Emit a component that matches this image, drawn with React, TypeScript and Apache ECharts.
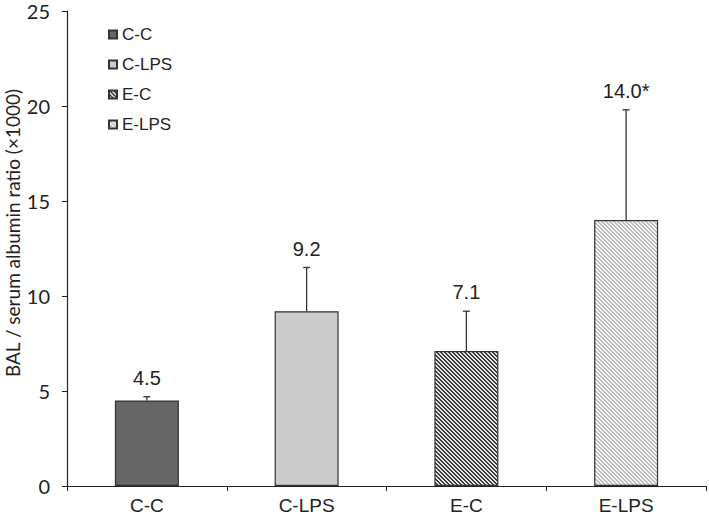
import React, { useEffect, useRef } from "react";
import * as echarts from "echarts";

const categories = ["C-C", "C-LPS", "E-C", "E-LPS"];
const means = [4.5, 9.2, 7.1, 14.0];
const errors = [0.2, 2.3, 2.1, 5.8];
const valueLabels = ["4.5", "9.2", "7.1", "14.0*"];
const yTicks = [0, 5, 10, 15, 20, 25];
const yTitle = "BAL / serum albumin ratio (×1000)";

function makeHatch(dark: string, light: string): HTMLCanvasElement {
  const n = 4;
  const c = document.createElement("canvas");
  c.width = n;
  c.height = n;
  const ctx = c.getContext("2d")!;
  for (let y = 0; y < n; y++) {
    for (let x = 0; x < n; x++) {
      const d = (((x - y) % n) + n) % n;
      ctx.fillStyle = d <= 1 ? dark : light;
      ctx.fillRect(x, y, 1, 1);
    }
  }
  return c;
}

export default function App() {
  const ref = useRef<HTMLDivElement>(null);
  useEffect(() => {
    if (!ref.current) return;
    const chart = echarts.init(ref.current, null, { renderer: "svg" });
    const fills: any[] = [
      "#666666",
      "#cccccc",
      { image: makeHatch("#3a3a3a", "#e6e6e6"), repeat: "repeat" },
      { image: makeHatch("#bdbdbd", "#f4f4f4"), repeat: "repeat" },
    ];
    const barSeries = categories.map((name, i) => ({
      name,
      type: "bar",
      barWidth: 64,
      barGap: "-100%",
      data: categories.map((_, j) => (j === i ? means[j] : "-")),
      itemStyle: { color: fills[i], borderColor: "#333", borderWidth: 1.2 },
    }));
    chart.setOption({
      animation: false,
      grid: { left: 67, right: 3, top: 11, bottom: 34, outerBoundsMode: "none", containLabel: false },
      graphic: [
        {
          type: "text",
          x: 12,
          y: 233,
          rotation: Math.PI / 2,
          style: {
            text: yTitle,
            align: "center",
            verticalAlign: "middle",
            fontFamily: "Lato, Open Sans",
            fontSize: 19,
            fill: "#222",
          },
        },
      ],
      legend: {
        data: categories,
        orient: "vertical",
        left: 108,
        top: 26,
        padding: 0,
        itemWidth: 8,
        itemHeight: 8,
        itemGap: 13,
        icon: "rect",
        textStyle: { fontFamily: "Liberation Sans, Arial", fontSize: 17, color: "#222" },
      },
      xAxis: {
        type: "category",
        data: categories,
        axisLine: { lineStyle: { color: "#222", width: 1.2 } },
        axisTick: { show: true, length: 5, lineStyle: { color: "#222" } },
        axisLabel: { margin: 10, fontFamily: "Liberation Sans, Arial", fontSize: 19, color: "#222" },
      },
      yAxis: {
        type: "value",
        min: 0,
        max: 25,
        interval: 5,
        axisLine: { show: true, lineStyle: { color: "#222", width: 1.2 } },
        axisTick: { show: true, length: 5, lineStyle: { color: "#222" } },
        splitLine: { show: false },
        axisLabel: {
          margin: 17,
          fontFamily: "Lato, Open Sans",
          fontSize: 20,
          color: "#222",
          formatter: (v: number) => (yTicks.includes(v) ? String(v) : ""),
        },
      },
      series: [
        ...barSeries,
        {
          type: "custom",
          data: categories.map((_, i) => [i, means[i], errors[i]]),
          z: 5,
          renderItem: (params: any, api: any) => {
            const i = api.value(0);
            const m = api.value(1);
            const e = api.value(2);
            const base = api.coord([i, m]);
            const top = api.coord([i, m + e]);
            return {
              type: "group",
              children: [
                {
                  type: "line",
                  shape: { x1: base[0], y1: base[1], x2: top[0], y2: top[1] },
                  style: { stroke: "#333", lineWidth: 1.3 },
                },
                {
                  type: "line",
                  shape: { x1: top[0] - 3.5, y1: top[1], x2: top[0] + 3.5, y2: top[1] },
                  style: { stroke: "#333", lineWidth: 1.3 },
                },
                {
                  type: "text",
                  x: top[0],
                  y: top[1] - 19,
                  style: {
                    text: valueLabels[i],
                    align: "center",
                    verticalAlign: "middle",
                    fontFamily: "Liberation Sans, Arial",
                    fontSize: 20,
                    fill: "#222",
                  },
                },
              ],
            };
          },
        },
      ],
    });
    return () => chart.dispose();
  }, []);
  return <div ref={ref} style={{ width: 709, height: 520, position: "absolute", left: 0, top: 0 }} />;
}
